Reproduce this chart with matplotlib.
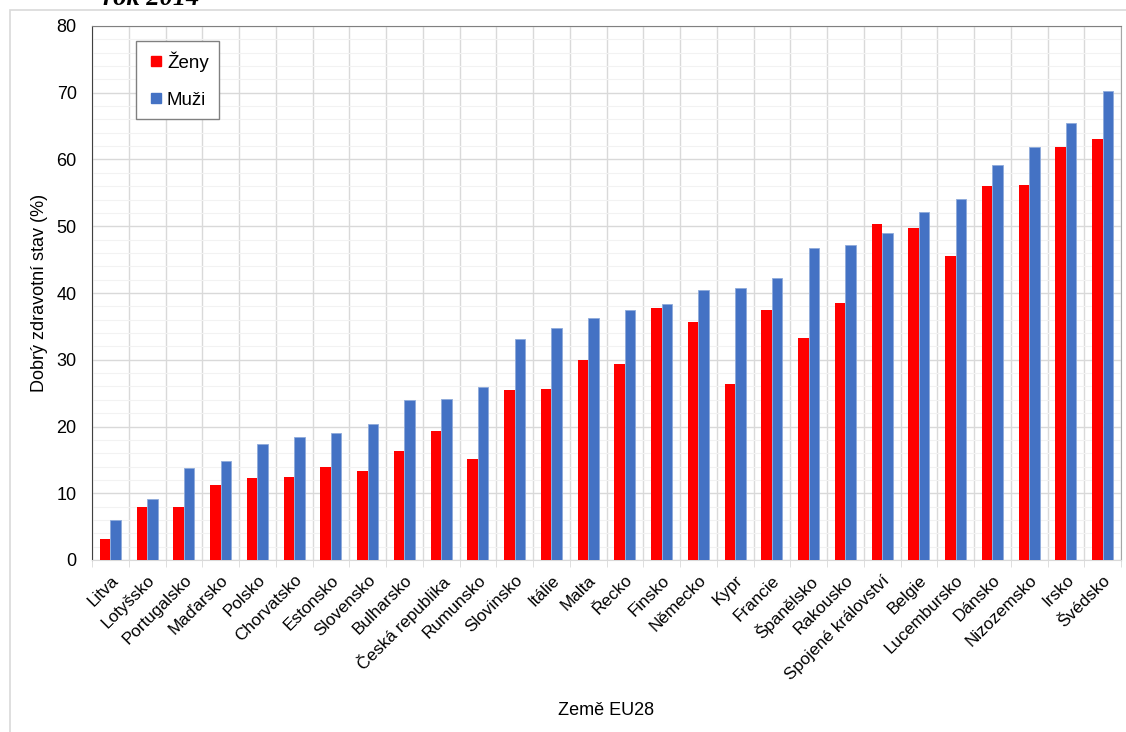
import numpy as np
import matplotlib.pyplot as plt
from matplotlib.lines import Line2D
from matplotlib.patches import Rectangle
from matplotlib.ticker import MultipleLocator, FixedLocator

plt.rcParams['font.family'] = ['Liberation Sans', 'DejaVu Sans']

zeme = ['Litva', 'Lotyšsko', 'Portugalsko', 'Maďarsko', 'Polsko', 'Chorvatsko',
        'Estonsko', 'Slovensko', 'Bulharsko', 'Česká republika', 'Rumunsko',
        'Slovinsko', 'Itálie', 'Malta', 'Řecko', 'Finsko', 'Německo', 'Kypr',
        'Francie', 'Španělsko', 'Rakousko', 'Spojené království', 'Belgie',
        'Lucembursko', 'Dánsko', 'Nizozemsko', 'Irsko', 'Švédsko']
zeny = [3.1, 8.0, 7.9, 11.2, 12.3, 12.5, 14.0, 13.4, 16.4, 19.4, 15.1,
        25.4, 25.6, 30.0, 29.4, 37.8, 35.7, 26.4, 37.4, 33.2, 38.5,
        50.3, 49.7, 45.5, 56.1, 56.2, 61.8, 63.0]
muzi = [6.0, 9.2, 13.8, 14.8, 17.4, 18.4, 19.1, 20.4, 24.0, 24.1, 25.9,
        33.1, 34.7, 36.2, 37.5, 38.3, 40.5, 40.8, 42.2, 46.7, 47.2,
        49.0, 52.2, 54.1, 59.2, 61.9, 65.4, 70.2]

RED = '#ff0000'
BLUE = '#4472c4'

fig = plt.figure(figsize=(11.26, 7.32), dpi=100)
W, H = 1126, 732
ax = fig.add_axes([92 / W, (H - 560) / H, (1121 - 92) / W, 534 / H])

# outer chart frame (only top/left visible in the screenshot)
fig.patches.append(Rectangle((10 / W, -0.05), 1.2, (H - 10) / H + 0.05,
                             transform=fig.transFigure, fill=False,
                             edgecolor='#d9d9d9', linewidth=1.2))
# title is cut off at the top edge in the source screenshot
fig.text(103 / W, 1 - 5 / H, 'rok 2014', fontsize=19, fontweight='bold',
         fontstyle='italic', family='Liberation Serif', va='baseline')

x = np.arange(len(zeme))
w = 0.285
ax.bar(x - w / 2, zeny, w, color=RED, zorder=3)
ax.bar(x + w / 2, muzi, w, color=BLUE, edgecolor='#8eaadb',
       linewidth=0.6, zorder=3)

ax.set_xlim(-0.5, len(zeme) - 0.5)
ax.set_ylim(0, 80)
ax.yaxis.set_major_locator(MultipleLocator(10))
ax.yaxis.set_minor_locator(MultipleLocator(2))
ax.xaxis.set_minor_locator(FixedLocator(np.arange(-0.5, len(zeme), 1)))
ax.set_xticks(x)
ax.set_xticklabels(zeme, rotation=45, ha='right', rotation_mode='anchor',
                   fontsize=12.3)
ax.tick_params(axis='x', which='major', length=0, pad=9)
ax.tick_params(axis='x', which='minor', length=5, color='#d9d9d9')
ax.tick_params(axis='y', which='both', length=0, labelsize=13, pad=11)

ax.grid(axis='y', which='major', color='#d9d9d9', linewidth=1, zorder=0)
ax.grid(axis='y', which='minor', color='#f2f2f2', linewidth=0.8, zorder=0)
ax.grid(axis='x', which='minor', color='#d9d9d9', linewidth=1, zorder=0)
ax.set_axisbelow(True)

ax.spines['left'].set_color('#404040')
ax.spines['top'].set_color('#808080')
ax.spines['right'].set_color('#a6a6a6')
ax.spines['bottom'].set_color('#d9d9d9')

ax.set_ylabel('Dobrý zdravotní stav (%)', fontsize=13)
ax.yaxis.set_label_coords(-(92 - 48) / 1029, 0.5)
ax.set_xlabel('Země EU28', fontsize=13)
ax.xaxis.set_label_coords(0.5, -(702 - 560) / 534)

handles = [Line2D([], [], ls='', marker='s', markersize=6.5, color=RED),
           Line2D([], [], ls='', marker='s', markersize=6.5, color=BLUE)]
leg = ax.legend(handles, ['Ženy', 'Muži'], loc='upper left',
                bbox_to_anchor=(44 / 1029, 1 - 15 / 534),
                borderaxespad=0, fontsize=13.5, frameon=True, fancybox=False,
                framealpha=1, edgecolor='#808080', handlelength=1.0,
                handletextpad=0.1, labelspacing=1.05, borderpad=0.55)
leg.get_frame().set_linewidth(1)

fig.savefig('out.png', dpi=100)
